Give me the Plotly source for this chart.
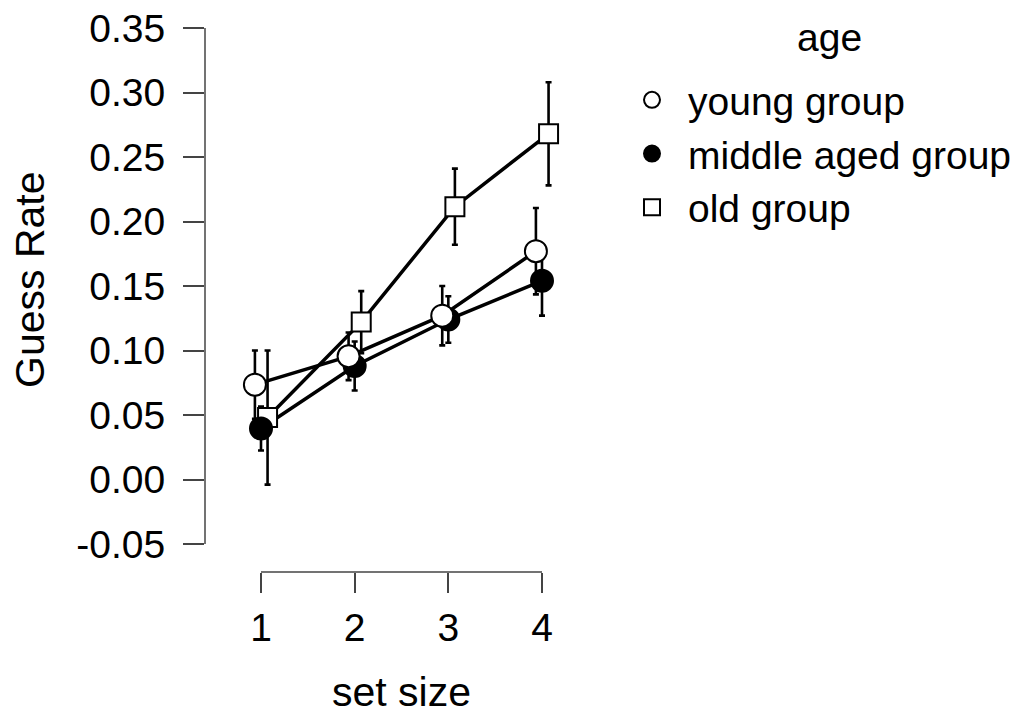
import plotly.graph_objects as go

set_size = [1, 2, 3, 4]
groups = ["young group", "middle aged group", "old group"]

young_mean = [0.0735, 0.0955, 0.127, 0.177]
young_err = [0.0265, 0.0185, 0.023, 0.0335]
middle_mean = [0.0395, 0.088, 0.124, 0.154]
middle_err = [0.017, 0.019, 0.018, 0.027]
old_mean = [0.048, 0.122, 0.2115, 0.268]
old_err = [0.052, 0.024, 0.0295, 0.040]

y_ticks = [-0.05, 0.00, 0.05, 0.10, 0.15, 0.20, 0.25, 0.30, 0.35]
y_tick_labels = ["-0.05", "0.00", "0.05", "0.10", "0.15", "0.20", "0.25", "0.30", "0.35"]

FONT = "Liberation Sans, Arial, sans-serif"
FS = 39
FS_TITLE = 41

series = [
    (groups[0], young_mean, young_err, -0.065, "circle", "white", 1),
    (groups[1], middle_mean, middle_err, 0.0, "circle", "black", 2),
    (groups[2], old_mean, old_err, 0.07, "square", "white", 3),
]

fig = go.Figure()

# lines + error bars first (beneath markers)
for name, m, e, d, sym, fill, rank in series:
    xs = [s + d for s in set_size]
    fig.add_trace(go.Scatter(
        x=xs, y=m, mode="lines",
        line=dict(color="black", width=3.5),
        error_y=dict(type="data", array=e, visible=True, color="black",
                     thickness=2.6, width=3),
        showlegend=False, hoverinfo="skip",
    ))

# markers, drawn old -> middle -> young
for name, m, e, d, sym, fill, rank in [series[2], series[1], series[0]]:
    xs = [s + d for s in set_size]
    fig.add_trace(go.Scatter(
        x=xs, y=m, mode="markers", name=name,
        marker=dict(symbol=sym, size=22 if sym == "circle" else 19,
                    color=fill, line=dict(color="black", width=2)),
        legendrank=rank,
    ))

W, H = 1023, 715
left_px, right_px = 205, 600
top_px, bottom_px = 28, 572
px_per_unit = (542 - 261) / 3
x_lo = 1 - (261 - left_px) / px_per_unit
x_hi = 4 + (right_px - 542) / px_per_unit
y_px_per_unit = (544 - 28) / 0.40
y_lo = -0.05 - (bottom_px - 544) / y_px_per_unit
y_hi = 0.35
pw = right_px - left_px
ph = bottom_px - top_px

fig.update_layout(
    width=W, height=H,
    margin=dict(l=left_px, r=W - right_px, t=top_px, b=H - bottom_px, autoexpand=False),
    paper_bgcolor="white", plot_bgcolor="white",
    font=dict(family=FONT, size=FS, color="black"),
    xaxis=dict(range=[x_lo, x_hi], tickvals=set_size, ticktext=[str(s) for s in set_size],
               showgrid=False, zeroline=False, showline=False, automargin=False,
               ticks="outside", ticklen=20, tickwidth=1.5, tickcolor="#444",
               ticklabelstandoff=1),
    yaxis=dict(range=[y_lo, y_hi], tickvals=y_ticks, ticktext=y_tick_labels,
               showgrid=False, zeroline=False, showline=False, automargin=False,
               ticks="outside", ticklen=21, tickwidth=1.5, tickcolor="#444",
               ticklabelstandoff=10),
    legend=dict(xref="container", yref="container", x=616 / W, y=1 - 68 / H,
                xanchor="left", yanchor="top", itemwidth=62,
                font=dict(size=FS), tracegroupgap=0, bgcolor="rgba(0,0,0,0)"),
    shapes=[
        dict(type="line", xref="paper", yref="y", x0=0, x1=0, y0=-0.05, y1=0.35,
             line=dict(color="#444", width=1.5)),
        dict(type="line", xref="x", yref="paper", x0=1, x1=4, y0=0, y1=0,
             line=dict(color="#444", width=1.5)),
    ],
    annotations=[
        dict(text="age", xref="paper", yref="paper",
             x=(829 - left_px) / pw, y=(bottom_px - 37) / ph,
             showarrow=False, xanchor="center", yanchor="middle", font=dict(size=FS)),
        dict(text="set size", xref="x", yref="paper", x=2.5, y=-(692 - bottom_px) / ph,
             showarrow=False, xanchor="center", yanchor="middle", font=dict(size=FS_TITLE)),
        dict(text="Guess Rate", xref="paper", yref="paper", x=-(left_px - 30) / pw,
             y=(bottom_px - 280) / ph, textangle=-90,
             showarrow=False, xanchor="center", yanchor="middle", font=dict(size=FS_TITLE)),
    ],
)

fig.write_html("out.html", config={"displayModeBar": False},
               post_script="document.body.style.margin='0';")
